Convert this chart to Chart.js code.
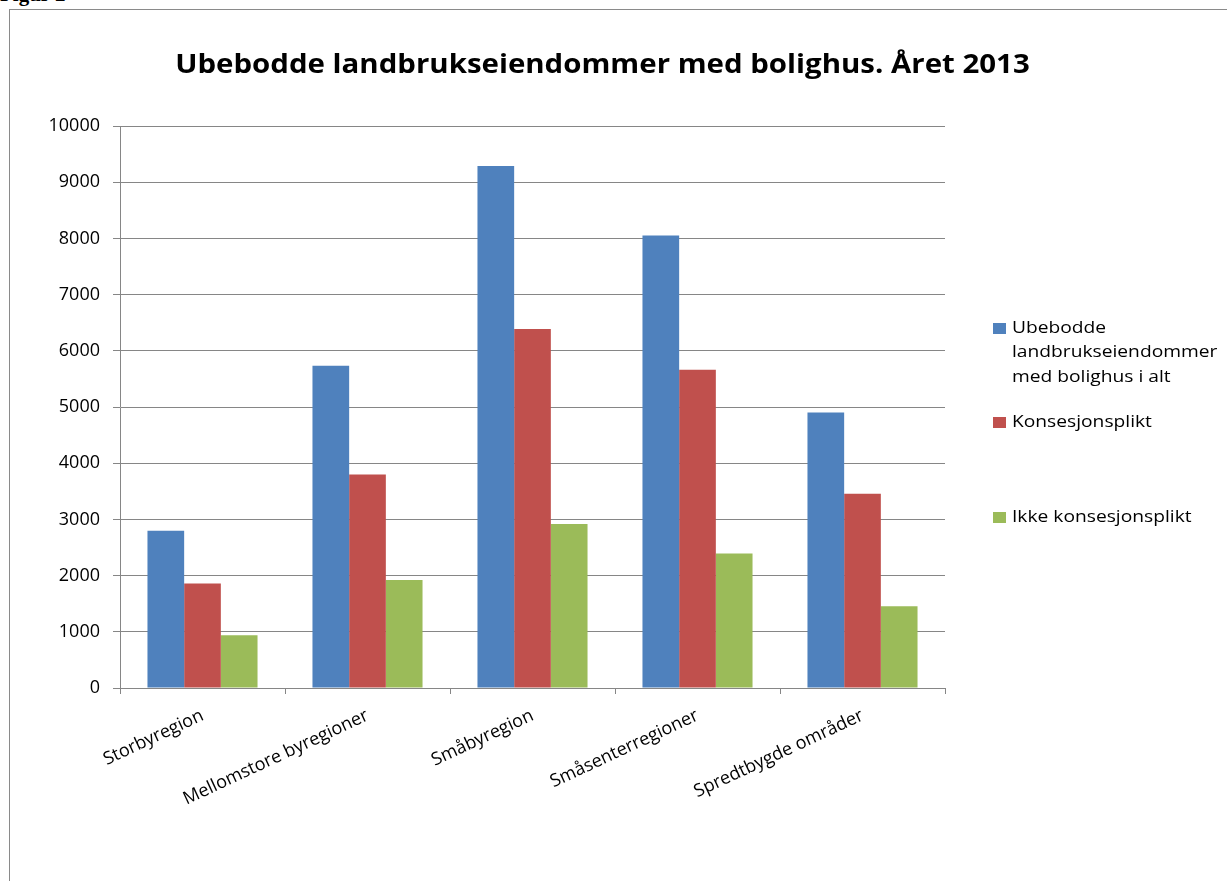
<!DOCTYPE html>
<html><head><meta charset="utf-8">
<script src="https://cdn.jsdelivr.net/npm/chart.js@4.4.0/dist/chart.umd.min.js"></script>
<style>
html,body{margin:0;padding:0;background:#fff;overflow:hidden;width:1227px;height:881px;position:relative}
#frame{position:absolute;left:9px;top:9px;width:1300px;height:1000px;border:1px solid #8a8a8a;box-sizing:border-box}
#fig{position:absolute;left:0;top:-16px;font:bold 21px "Liberation Serif";line-height:21px;color:#000;white-space:nowrap}
#title{position:absolute;left:10px;width:1185px;top:43px;text-align:center;font:bold 27px "Open Sans";color:#000;line-height:40px;white-space:nowrap;transform:scaleX(1.09);transform-origin:50% 50%}
#c{position:absolute;left:0;top:0}
#legend{position:absolute;left:993px;top:314.5px;width:234px}
.item{height:94.7px;position:relative}
.sw{position:absolute;left:0;top:8px;width:13px;height:11px}
.lt{position:absolute;left:19px;top:0;width:188px;font:17px "Open Sans";line-height:24.5px;color:#000;transform:scaleX(1.13);transform-origin:0 0}
</style></head><body>
<div id="frame"></div>
<div id="fig">Figur 2</div>
<canvas id="c" width="1227" height="881"></canvas>
<div id="title"></div>
<div id="legend"></div>
<script>
const titleText = "Ubebodde landbrukseiendommer med bolighus. Året 2013";
const categories = ["Storbyregion", "Mellomstore byregioner", "Småbyregion", "Småsenterregioner", "Spredtbygde områder"];
const seriesNames = ["Ubebodde landbrukseiendommer med bolighus i alt", "Konsesjonsplikt", "Ikke konsesjonsplikt"];
const seriesColors = ["#4F81BD", "#C0504D", "#9BBB59"];
const totalValues = [2800, 5735, 9290, 8050, 4900];
const konsesjonValues = [1860, 3800, 6390, 5665, 3455];
const ikkeKonsesjonValues = [940, 1920, 2920, 2395, 1455];
const yMin = 0, yMax = 10000, yStep = 1000;

document.getElementById('title').textContent = titleText;
const leg = document.getElementById('legend');
seriesNames.forEach((n, i) => {
  const it = document.createElement('div'); it.className = 'item';
  const sw = document.createElement('div'); sw.className = 'sw'; sw.style.background = seriesColors[i];
  const lt = document.createElement('div'); lt.className = 'lt'; lt.textContent = n;
  it.appendChild(sw); it.appendChild(lt); leg.appendChild(it);
});

const seriesValues = [totalValues, konsesjonValues, ikkeKonsesjonValues];
const gridColor = '#868686';
new Chart(document.getElementById('c'), {
  type: 'bar',
  data: {
    labels: categories,
    datasets: seriesNames.map((n, i) => ({
      label: n, data: seriesValues[i], backgroundColor: seriesColors[i],
      borderWidth: 0, categoryPercentage: 0.667, barPercentage: 1.0
    }))
  },
  options: {
    responsive: false, animation: false, devicePixelRatio: 1,
    layout: {padding: {top: 126, left: 0, right: 282, bottom: 0}},
    plugins: {legend: {display: false}, tooltip: {enabled: false}, title: {display: false}},
    scales: {
      x: {
        grid: {offset: true, drawOnChartArea: false, drawTicks: true, tickLength: 6, color: gridColor},
        border: {color: gridColor},
        ticks: {color: '#000', font: {family: 'Open Sans', size: 18}, maxRotation: 25, minRotation: 25, autoSkip: false, padding: 11},
        afterFit: s => { s.height = 193; }
      },
      y: {
        min: yMin, max: yMax,
        grid: {color: gridColor, tickLength: 7},
        border: {color: gridColor},
        ticks: {stepSize: yStep, color: '#000', font: {family: 'Open Sans', size: 18}, padding: 13,
                callback: v => String(v)},
        afterFit: s => { s.width = 120; }
      }
    }
  }
});
</script>
</body></html>
